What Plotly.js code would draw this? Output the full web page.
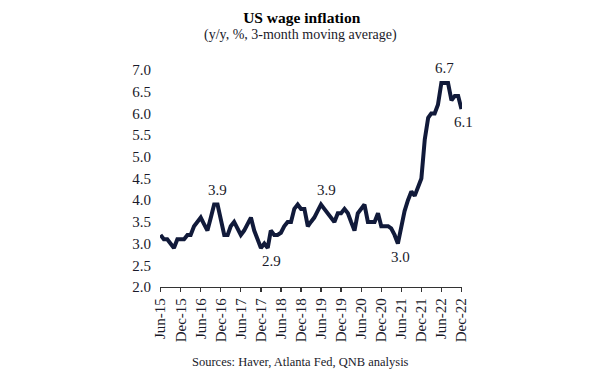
<!DOCTYPE html>
<html>
<head>
<meta charset="utf-8">
<script src="https://cdn.plot.ly/plotly-3.0.1.min.js"></script>
<style>
  html, body { margin: 0; padding: 0; background: #ffffff; }
  #chart { width: 605px; height: 378px; }
</style>
</head>
<body>
<div id="chart"></div>
<script>
// Monthly series, Jun-15 .. Dec-22 (3-month moving average, y/y %)
const startYear = 2015;
const startMonth = 6;
const wageValues = [
  3.2, 3.1, 3.1, 3.0, 2.9, 3.1, 3.1,            // Jun-15 .. Dec-15
  3.1, 3.2, 3.2, 3.4, 3.5, 3.6, 3.45, 3.3, 3.6, 3.9, 3.9, 3.55, // 2016
  3.2, 3.2, 3.4, 3.5, 3.35, 3.2, 3.3, 3.45, 3.6, 3.3, 3.1, 2.9, // 2017
  3.0, 2.9, 3.3, 3.2, 3.2, 3.25, 3.4, 3.5, 3.5, 3.8, 3.9, 3.8,  // 2018
  3.8, 3.4, 3.5, 3.6, 3.75, 3.9, 3.8, 3.7, 3.6, 3.5, 3.7, 3.7,  // 2019
  3.8, 3.7, 3.5, 3.3, 3.7, 3.8, 3.9, 3.5, 3.5, 3.5, 3.7, 3.4,   // 2020
  3.4, 3.4, 3.35, 3.2, 3.0, 3.4, 3.75, 4.0, 4.2, 4.1, 4.3, 4.5, // 2021
  5.4, 5.9, 6.0, 6.0, 6.2, 6.7, 6.7, 6.7, 6.3, 6.4, 6.4, 6.1    // 2022
];
const tickStart = '2015-06-01';
const tickStep = 'M6';
const tickFormat = '%b-%y';
const titleText = 'US wage inflation';
const subtitleText = '(y/y, %, 3-month moving average)';
const sourceText = 'Sources: Haver, Atlanta Fed, QNB analysis';
// labelled points: index into wageValues
const labelIdx = [17, 48, 32, 71, 85, 90];
const labelPos = ['above', 'above', 'below', 'below', 'above', 'below'];
const labelXShift = [0, 6, 4, 3, 0, 2];

const months = wageValues.map((_, i) => {
  const m0 = startMonth - 1 + i;
  const y = startYear + Math.floor(m0 / 12);
  const m = (m0 % 12) + 1;
  return y + '-' + String(m).padStart(2, '0') + '-01';
});

const navy = '#111a3a';
const textCol = '#1a1a2a';
const serif = '"Liberation Serif", "Times New Roman", serif';

const annotations = labelIdx.map((idx, k) => ({
  x: months[idx],
  y: wageValues[idx],
  xref: 'x', yref: 'y',
  text: wageValues[idx].toFixed(1),
  showarrow: false,
  xanchor: 'center',
  yanchor: 'middle',
  xshift: labelXShift[k],
  yshift: labelPos[k] === 'above' ? 15 : -13,
  font: { family: serif, size: 15, color: textCol }
}));

annotations.push({
  text: subtitleText, xref: 'paper', yref: 'paper', x: 0.464, y: 1.163,
  xanchor: 'center', yanchor: 'middle', showarrow: false,
  font: { family: serif, size: 14, color: textCol }
});
annotations.push({
  text: sourceText, xref: 'paper', yref: 'paper', x: 0.464, y: -0.346,
  xanchor: 'center', yanchor: 'middle', showarrow: false,
  font: { family: serif, size: 12.5, color: textCol }
});

const trace = {
  x: months,
  y: wageValues,
  type: 'scatter',
  mode: 'lines',
  line: { color: navy, width: 4 },
  hoverinfo: 'skip'
};

const layout = {
  width: 605,
  height: 378,
  margin: { l: 160, r: 143, t: 70, b: 91 },
  paper_bgcolor: '#ffffff',
  plot_bgcolor: '#ffffff',
  showlegend: false,
  title: {
    text: '<b>' + titleText + '</b>',
    x: 0.4987, xref: 'container', xanchor: 'center',
    y: 1 - 17.5 / 378, yref: 'container', yanchor: 'middle',
    font: { family: serif, size: 15.5, color: '#000000' }
  },
  xaxis: {
    type: 'date',
    range: ['2015-05-27', '2022-12-06'],
    tick0: tickStart,
    dtick: tickStep,
    tickformat: tickFormat,
    tickangle: -90,
    showgrid: false,
    zeroline: false,
    showline: true,
    linecolor: '#333333',
    linewidth: 1.2,
    ticks: 'outside',
    ticklen: 4,
    tickwidth: 1.2,
    tickcolor: '#333333',
    tickfont: { family: serif, size: 15, color: textCol },
    fixedrange: true
  },
  yaxis: {
    range: [2, 7],
    tick0: 2,
    dtick: 0.5,
    tickformat: '.1f',
    showgrid: false,
    zeroline: false,
    showline: false,
    ticks: '',
    ticklabelstandoff: 8,
    tickfont: { family: serif, size: 15, color: textCol },
    fixedrange: true
  },
  annotations: annotations
};

Plotly.newPlot('chart', [trace], layout, { displayModeBar: false, staticPlot: true });
</script>
</body>
</html>
